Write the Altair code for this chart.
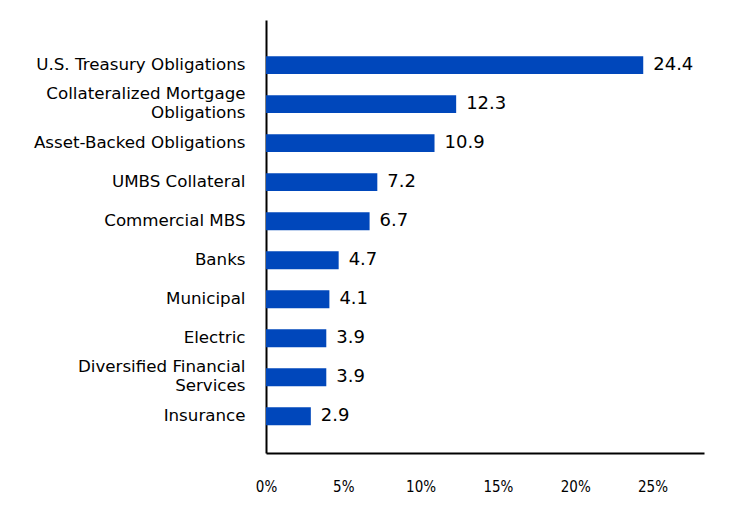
import altair as alt
import pandas as pd

categories = [
    "U.S. Treasury Obligations",
    "Collateralized Mortgage\nObligations",
    "Asset-Backed Obligations",
    "UMBS Collateral",
    "Commercial MBS",
    "Banks",
    "Municipal",
    "Electric",
    "Diversified Financial\nServices",
    "Insurance",
]
values = [24.4, 12.3, 10.9, 7.2, 6.7, 4.7, 4.1, 3.9, 3.9, 2.9]
tick_values = [0, 5, 10, 15, 20, 25]

df = pd.DataFrame({"category": categories, "value": values})
df["label"] = df["value"].map(lambda v: f"{v:.1f}")

FONT = "DejaVu Sans"
TICKFONT = "DejaVu Sans Condensed"
BLUE = "#0047BB"

y_enc = alt.Y(
    "category:N",
    sort=None,
    title=None,
    scale=alt.Scale(paddingInner=0.54, paddingOuter=0.82, align=0.565),
    axis=alt.Axis(
        labelExpr="split(datum.label, '\\n')",
        labelFont=FONT,
        labelFontSize=16.7,
        labelColor="#000000",
        labelLineHeight=19,
        labelPadding=21,
        labelOffset={"condition": {"test": "indexof(datum.value, '\\n') >= 0", "value": -10}, "value": 0},
        ticks=False,
        domainColor="#000000",
        domainWidth=2,
        grid=False,
        labelLimit=400,
    ),
)

x_enc = alt.X(
    "value:Q",
    title=None,
    scale=alt.Scale(domain=[0, 28.33], nice=False),
    axis=alt.Axis(
        values=tick_values,
        labelExpr="datum.value + '%'",
        labelFont=TICKFONT,
        labelFontSize=15,
        labelColor="#000000",
        labelPadding=26,
        ticks=False,
        domainColor="#000000",
        domainWidth=2,
        grid=False,
        labelFlush=False,
    ),
)

bars = alt.Chart(df).mark_bar(color=BLUE).encode(y=y_enc, x=x_enc)
text = alt.Chart(df).mark_text(
    align="left", baseline="middle", dx=10, font=FONT, fontSize=18, color="#000000"
).encode(y=alt.Y("category:N", sort=None), x="value:Q", text="label:N")

chart = (
    alt.layer(bars, text)
    .properties(
        width=438,
        height=433,
        autosize=alt.AutoSizeParams(type="none"),
        padding={"left": 258, "top": 12, "right": 30, "bottom": 60},
    )
    .configure_view(stroke=None)
)

chart.save("out.html", embed_options={"renderer": "svg", "actions": False})
